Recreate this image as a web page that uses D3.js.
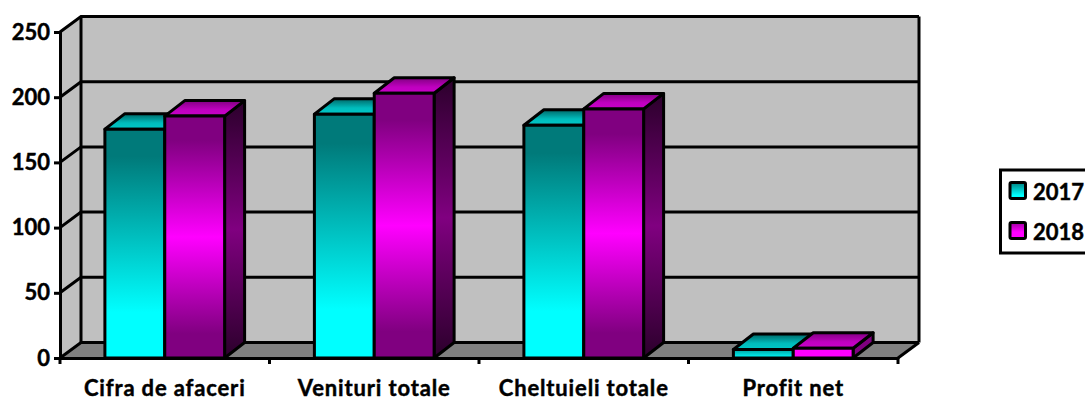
<!DOCTYPE html>
<html><head><meta charset="utf-8">
<script src="https://cdn.jsdelivr.net/npm/d3@7"></script>
<style>html,body{margin:0;padding:0;background:#fff;overflow:hidden}svg{display:block}
text{font-family:Lato,sans-serif;font-weight:700;fill:#000;stroke:#000;stroke-width:.45px}</style></head>
<body><svg id="c" width="1085" height="400"></svg>
<script>
const categories=["Cifra de afaceri","Venituri totale","Cheltuieli totale","Profit net"];
const seriesNames=["2017","2018"];
const values2017=[175.5,187,178.5,6.5];
const values2018=[185.5,203,191,7.5];
const yTicks=[0,50,100,150,200,250];

const svg=d3.select("#c");
const dx=21,dy=-15.5;
const y=d3.scaleLinear().domain([0,250]).range([358,32]);
const x=d3.scaleBand().domain(categories).range([60,898]).paddingInner(0).paddingOuter(0);
const xs=d3.scaleBand().domain(seriesNames).range([0,x.bandwidth()]).paddingInner(0).paddingOuter(0.75);
const bw=xs.bandwidth();

const defs=svg.append("defs");
function grad(id,stops){
  const g=defs.append("linearGradient").attr("id",id).attr("x1",0).attr("y1",0).attr("x2",0).attr("y2",1);
  stops.forEach(s=>g.append("stop").attr("offset",s[0]).attr("stop-color",s[1]));
}
grad("f0",[[0,"#007a7a"],[.12,"#007a7a"],[.8,"#00ffff"],[1,"#00ffff"]]);
grad("f1",[[0,"#800080"],[.1,"#800080"],[.5,"#ff00ff"],[.9,"#800080"],[1,"#800080"]]);
grad("s1",[[0,"#2b002b"],[.5,"#800080"],[1,"#2b002b"]]);
grad("s0",[[0,"#002b2b"],[.5,"#008080"],[1,"#002b2b"]]);
grad("t0",[[0,"#006666"],[.6,"#00bcbc"],[1,"#00c8c8"]]);
grad("t1",[[0,"#800080"],[.6,"#c000c0"],[1,"#c800c8"]]);
grad("lf0",[[0,"#00a0a0"],[1,"#00ffff"]]);
grad("lf1",[[0,"#ff00ff"],[1,"#ff00ff"]]);
grad("ss0",[[0,"#008080"],[1,"#008080"]]);
grad("ss1",[[0,"#800080"],[1,"#800080"]]);
grad("l0",[[0,"#007f7f"],[.8,"#00ffff"],[1,"#00ffff"]]);
grad("l1",[[0,"#a000a0"],[.6,"#ff00ff"],[1,"#ff00ff"]]);

const poly=pts=>pts.map(p=>p.join(",")).join(" ");
const lw=3;
const x0=60,x1=898,yb=y(0),yt=y(250);
// walls
svg.append("polygon").attr("points",poly([[x0+dx,yb+dy],[x1+dx,yb+dy],[x1+dx,yt+dy],[x0+dx,yt+dy]])).attr("fill","#c0c0c0");
svg.append("polygon").attr("points",poly([[x0,yb],[x0+dx,yb+dy],[x0+dx,yt+dy],[x0,yt]])).attr("fill","#c0c0c0");
svg.append("polygon").attr("points",poly([[x0,yb],[x1,yb],[x1+dx,yb+dy],[x0+dx,yb+dy]])).attr("fill","#808080");
// grid
yTicks.forEach(t=>{
  svg.append("polyline").attr("points",poly([[x0,y(t)],[x0+dx,y(t)+dy],[x1+dx,y(t)+dy]])).attr("fill","none").attr("stroke","#000").attr("stroke-width",lw);
});
svg.append("line").attr("x1",x0+dx).attr("x2",x0+dx).attr("y1",yb+dy).attr("y2",yt+dy).attr("stroke","#000").attr("stroke-width",lw);
svg.append("line").attr("x1",x1+dx).attr("x2",x1+dx).attr("y1",yb+dy).attr("y2",yt+dy).attr("stroke","#000").attr("stroke-width",lw);
svg.append("line").attr("x1",x1).attr("x2",x1+dx).attr("y1",yb).attr("y2",yb+dy).attr("stroke","#000").attr("stroke-width",lw);

// bars
const strokeW=3;
categories.forEach((c,i)=>{
  [[values2017,0],[values2018,1]].forEach(([vals,k])=>{
    const v=vals[i];
    const L=x(c)+xs(seriesNames[k]),R=L+bw,T=y(v),B=y(0);
    const small=v<20;
    const g=svg.append("g").attr("stroke","#000").attr("stroke-width",strokeW).attr("stroke-linejoin","round");
    g.append("polygon").attr("points",poly([[R,B],[R+dx-1,B+dy],[R+dx-1,T+dy],[R,T]])).attr("fill",small?`url(#ss${k})`:`url(#s${k})`);
    g.append("polygon").attr("points",poly([[L,T],[R,T],[R+dx-1,T+dy],[L+dx-1,T+dy]])).attr("fill",`url(#t${k})`);
    g.append("rect").attr("x",L).attr("y",T).attr("width",bw).attr("height",B-T).attr("fill",small?`url(#lf${k})`:`url(#f${k})`);
  });
});

// axes (front)
const fs="22px";
const ya=svg.append("g").attr("transform",`translate(${x0},0)`).call(d3.axisLeft(y).tickValues(yTicks).tickSize(6).tickPadding(4));
ya.select(".domain").attr("stroke","#000").attr("stroke-width",lw);
ya.selectAll("line").attr("stroke","#000").attr("stroke-width",lw);
ya.selectAll("text").style("font-size",fs).style("font-family","Lato,sans-serif").style("font-weight",700).attr("fill","#000");

const xa=svg.append("g").attr("transform",`translate(0,${yb})`).call(
  d3.axisBottom(x).tickSize(0).tickPadding(22));
xa.select(".domain").attr("stroke","#000").attr("stroke-width",lw);
xa.selectAll("line").remove();
xa.selectAll("text").style("font-size",fs).style("letter-spacing","0.85px").style("font-family","Lato,sans-serif").style("font-weight",700).attr("fill","#000");
categories.concat(["__end"]).forEach(c=>{
  const px=c==="__end"?x1:x(c);
  svg.append("line").attr("x1",px).attr("x2",px).attr("y1",yb).attr("y2",yb+6).attr("stroke","#000").attr("stroke-width",lw);
});

// legend
svg.append("rect").attr("x",1000.5).attr("y",170).attr("width",90).attr("height",83).attr("fill","#fff").attr("stroke","#000").attr("stroke-width",3);
seriesNames.forEach((s,k)=>{
  const ly=182.5+k*40;
  svg.append("rect").attr("x",1010).attr("y",ly).attr("width",15.5).attr("height",16).attr("fill",`url(#l${k})`).attr("stroke","#000").attr("stroke-width",3).attr("rx",1.5);
  svg.append("text").attr("x",1033).attr("y",ly+17).style("font-size",fs).text(s);
});
</script></body></html>
